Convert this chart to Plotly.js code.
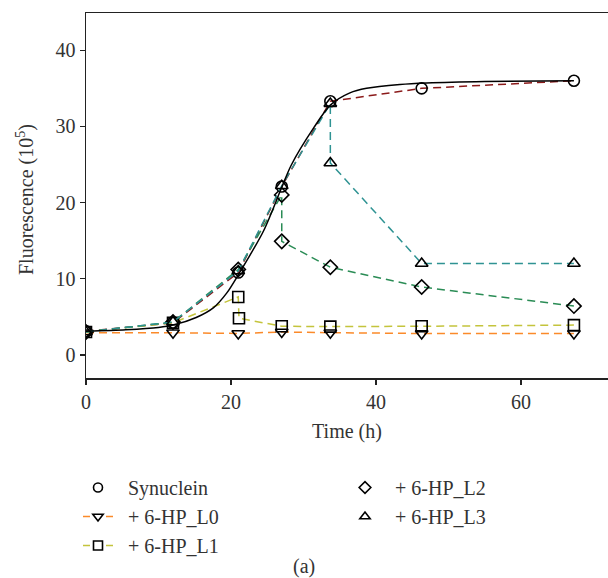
<!DOCTYPE html>
<html>
<head>
<meta charset="utf-8">
<script src="https://cdn.plot.ly/plotly-3.0.1.min.js"></script>
<style>html,body{margin:0;padding:0;background:#fff;}</style>
</head>
<body>
<div id="chart" style="width:608px;height:578px;"></div>
<script>
// ---- data ----
const synTime = [0, 12, 21, 27, 33.7, 46.3, 67.3];
const synVal  = [3.1, 4.2, 10.8, 22.1, 33.3, 35.0, 36.0];

const fitTime = [0, 5.5, 10, 12, 15.2, 17.6, 19.4, 21, 24.5, 27, 28.3, 31.4, 33.7, 36.4, 38.7, 43.3, 47, 55, 67.3];
const fitVal  = [3.1, 3.3, 3.6, 3.9, 4.9, 6.2, 8.1, 10.5, 16.3, 22.0, 24.9, 29.8, 32.8, 34.4, 35.0, 35.5, 35.7, 35.9, 36.0];

const l0Time = [0, 12, 21, 27, 33.7, 46.3, 67.3];
const l0Val  = [2.9, 2.9, 2.8, 3.0, 2.9, 2.8, 2.8];

const l1Time = [0, 12, 21, 21.1, 27, 33.7, 46.3, 67.3];
const l1Val  = [3.0, 4.2, 7.6, 4.8, 3.75, 3.7, 3.75, 3.9];

const l2Time = [0, 12, 21, 27, 27, 33.7, 46.3, 67.3];
const l2Val  = [3.0, 4.3, 11.2, 21.0, 14.9, 11.5, 8.9, 6.4];

const l3Time = [0, 12, 21, 27, 33.7, 33.7, 46.3, 67.3];
const l3Val  = [3.0, 4.3, 11.0, 22.2, 33.0, 25.2, 12.0, 12.0];

const names = ['Synuclein', '+ 6-HP_L0', '+ 6-HP_L1', '+ 6-HP_L2', '+ 6-HP_L3'];
const lineColors = ['#8b1a1a', '#fb8a2a', '#c4c43c', '#2a8c55', '#2f9393'];
const symbols = ['circle-open', 'triangle-down-open', 'square-open', 'diamond-open', 'triangle-up-open'];

const DASH = '8px,5px';
function series(x, y, i) {
  return {
    x: x, y: y, type: 'scatter', mode: 'lines+markers', showlegend: false,
    line: {color: lineColors[i], width: 1.5, dash: DASH},
    marker: {symbol: symbols[i], color: '#000', size: 11, line: {width: 1.6, color: '#000'}},
    hoverinfo: 'x+y'
  };
}

const traces = [
  series(synTime, synVal, 0),
  series(l0Time, l0Val, 1),
  series(l1Time, l1Val, 2),
  series(l2Time, l2Val, 3),
  series(l3Time, l3Val, 4),
  {x: fitTime, y: fitVal, type: 'scatter', mode: 'lines', showlegend: false,
   line: {color: '#000', width: 1.5, shape: 'spline', smoothing: 0.8}, hoverinfo: 'skip'}
];

// legend-only entries (reference shows line only for L0 and L1)
const legendModes = ['markers', 'lines+markers', 'lines+markers', 'markers', 'markers'];
const legendIds = ['legend', 'legend', 'legend', 'legend2', 'legend2'];
for (let i = 0; i < 5; i++) {
  traces.push({
    x: [null], y: [null], type: 'scatter', name: '\u00a0\u00a0' + names[i], mode: legendModes[i],
    legend: legendIds[i], showlegend: true,
    line: {color: lineColors[i], width: 1.5, dash: '7px,16px'},
    marker: {symbol: symbols[i], color: '#000', size: 9, line: {width: 1.6, color: '#000'}}
  });
}

const FONT = 'Liberation Serif, Times New Roman, serif';
const TXT = '#333';

const legendCommon = {
  xref: 'container', yref: 'container', xanchor: 'left', yanchor: 'top',
  orientation: 'v', bgcolor: 'rgba(0,0,0,0)', borderwidth: 0,
  tracegroupgap: 0,
  font: {family: FONT, size: 20, color: TXT}
};

const layout = {
  width: 608, height: 578,
  margin: {l: 86, r: 0, t: 13, b: 200, autoexpand: false},
  paper_bgcolor: '#fff', plot_bgcolor: '#fff',
  font: {family: FONT, size: 20, color: TXT},
  xaxis: {
    range: [0, 72], tick0: 0, dtick: 20, ticks: 'outside', ticklen: 5, tickwidth: 1.5, tickcolor: '#222',
    showline: true, linecolor: '#222', linewidth: 1.5, mirror: true, showgrid: false, zeroline: false,
    tickfont: {family: FONT, size: 20, color: TXT},
    title: {text: 'Time (h)', font: {family: FONT, size: 20, color: TXT}, standoff: 12}
  },
  yaxis: {
    range: [-3.05, 44.9], tick0: 0, dtick: 10, ticks: 'outside', ticklen: 5, tickwidth: 1.5, tickcolor: '#222',
    showline: true, linecolor: '#222', linewidth: 1.5, showgrid: false, zeroline: false,
    tickfont: {family: FONT, size: 20, color: TXT}
  },
  legend: Object.assign({}, legendCommon, {x: 78 / 608, y: 1 - 468 / 578}),
  legend2: Object.assign({}, legendCommon, {x: 345 / 608, y: 1 - 468 / 578}),
  annotations: [
    {
      text: 'Fluorescence (10<sup>5</sup>)', xref: 'paper', yref: 'paper',
      x: (25 - 86) / 522, y: (378 - 200) / 365, textangle: -90,
      xanchor: 'center', yanchor: 'middle', showarrow: false,
      font: {family: FONT, size: 20, color: TXT}
    },
    {
      text: '(a)', xref: 'paper', yref: 'paper', x: (304 - 86) / 522, y: (378 - 566) / 365,
      xanchor: 'center', yanchor: 'middle', showarrow: false,
      font: {family: FONT, size: 20, color: TXT}
    }
  ],
  showlegend: true
};

Plotly.newPlot('chart', traces, layout, {displayModeBar: false, staticPlot: true});
</script>
</body>
</html>
